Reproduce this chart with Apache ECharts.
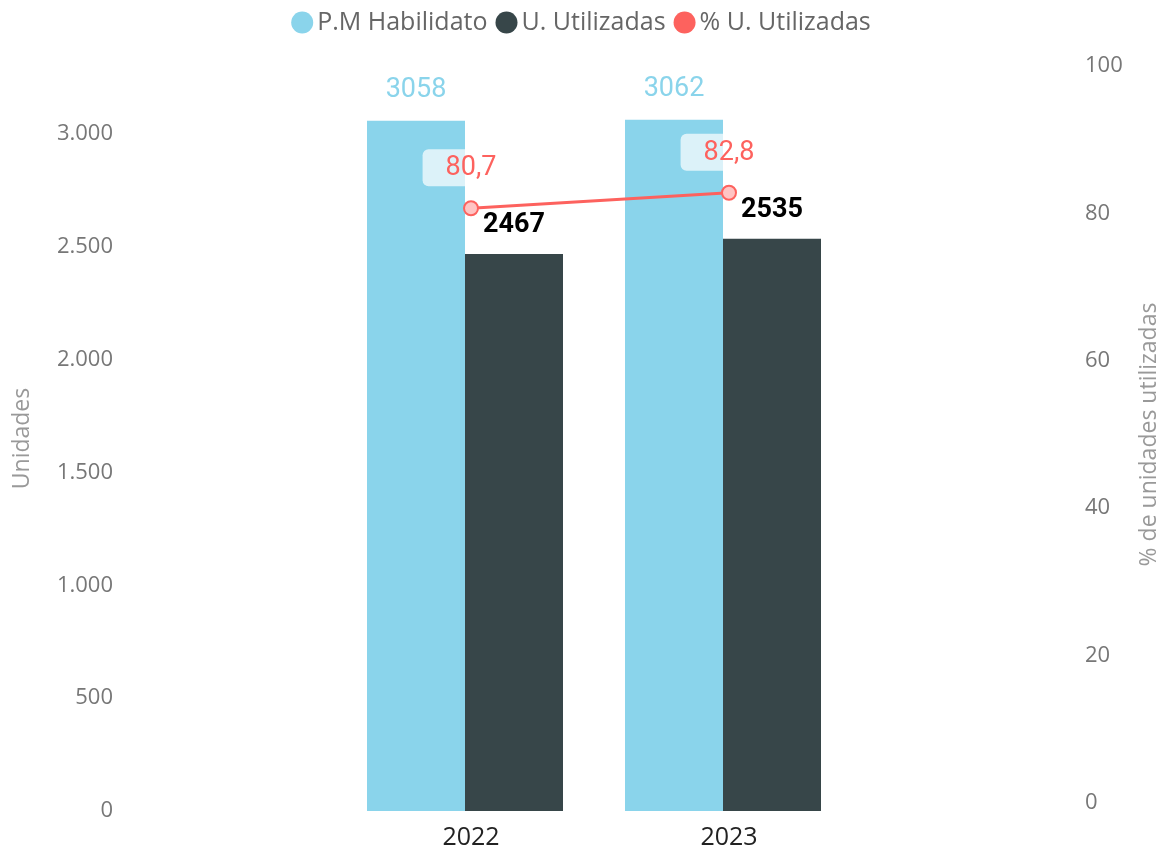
<!DOCTYPE html>
<html>
<head>
<meta charset="utf-8">
<script src="https://cdn.jsdelivr.net/npm/echarts@6/dist/echarts.min.js"></script>
<style>
  html, body { margin: 0; padding: 0; background: #fff; }
  #chart { width: 1162px; height: 852px; }
</style>
</head>
<body>
<div id="chart"></div>
<script>
// categorias y valores
var years = ['2022', '2023'];
var habilitado = [3058, 3062];     // P.M Habilitado
var utilizadas = [2467, 2535];     // U. Utilizadas
var pctUtilizadas = [80.7, 82.8];  // % U. Utilizadas

var chart = echarts.init(document.getElementById('chart'));

// separador de miles con punto
function miles(v) {
    return String(v).replace(/\B(?=(\d{3})+(?!\d))/g, '.');
}

var option = {
    animation: false,
    legend: {
        top: 5,
        left: 'center',
        icon: 'circle',
        itemWidth: 22,
        itemHeight: 22,
        itemGap: 8,
        textStyle: { fontFamily: 'Open Sans', fontSize: 25, color: '#666', padding: [0, 0, 0, -1] },
        data: [
            'P.M Habilidato',
            'U. Utilizadas',
            { name: '% U. Utilizadas', itemStyle: { color: '#FD625E', borderWidth: 0 } }
        ]
    },
    grid: [
        { left: 336, right: 310, top: 66, bottom: 41 },   // barras
        { left: 342, right: 304, top: 66, bottom: 49 }    // linea %
    ],
    xAxis: [
        {
            type: 'category', gridIndex: 0, data: years,
            axisLine: { show: false }, axisTick: { show: false },
            axisLabel: { show: false }
        },
        {
            type: 'category', gridIndex: 1, data: years,
            axisLine: { show: false }, axisTick: { show: false },
            axisLabel: { margin: 22, fontFamily: 'Open Sans', fontSize: 25, color: '#222' }
        }
    ],
    yAxis: [
        {
            type: 'value', gridIndex: 0, min: 0, max: 3300, interval: 500,
            name: 'Unidades', nameLocation: 'middle', nameGap: 302, nameRotate: 90,
            nameTextStyle: { fontFamily: 'Open Sans', fontSize: 23, color: '#999' },
            splitLine: { show: false },
            axisLine: { show: false }, axisTick: { show: false },
            axisLabel: {
                margin: 223, showMaxLabel: false,
                fontFamily: 'Open Sans', fontSize: 22, color: '#777',
                formatter: miles
            }
        },
        {
            type: 'value', gridIndex: 1, position: 'right', min: 0, max: 100, interval: 20,
            name: '% de unidades utilizadas', nameLocation: 'middle', nameGap: 280, nameRotate: 90,
            nameTextStyle: { fontFamily: 'Open Sans', fontSize: 23, color: '#999' },
            splitLine: { show: false },
            axisLine: { show: false }, axisTick: { show: false },
            axisLabel: {
                margin: 227, align: 'left',
                fontFamily: 'Open Sans', fontSize: 22, color: '#777'
            }
        }
    ],
    series: [
        {
            name: 'P.M Habilidato', type: 'bar', xAxisIndex: 0, yAxisIndex: 0,
            data: habilitado, barWidth: 98, barGap: '0%',
            itemStyle: { color: '#8AD4EB' },
            label: {
                show: true, position: 'top', distance: 17,
                fontFamily: 'Roboto', fontSize: 27, color: '#8AD4EB'
            }
        },
        {
            name: 'U. Utilizadas', type: 'bar', xAxisIndex: 0, yAxisIndex: 0,
            data: utilizadas, barWidth: 98, barGap: '0%',
            itemStyle: { color: '#374649' },
            label: {
                show: true, position: 'top', distance: 15,
                fontFamily: 'Roboto', fontSize: 27, fontWeight: 'bold', color: '#000'
            }
        },
        {
            name: '% U. Utilizadas', type: 'line', xAxisIndex: 1, yAxisIndex: 1,
            data: pctUtilizadas, symbol: 'circle', symbolSize: 14,
            lineStyle: { color: '#FD625E', width: 3 },
            itemStyle: { color: '#FFC4C3', borderColor: '#FD625E', borderWidth: 2 },
            label: {
                show: true, position: 'top', distance: 14,
                fontFamily: 'Roboto', fontSize: 27, color: '#FD625E',
                backgroundColor: 'rgba(255,255,255,0.7)',
                borderRadius: 6, padding: [6, 23, 4, 23],
                formatter: function (p) { return p.value.toFixed(1).replace('.', ','); }
            }
        }
    ]
};

chart.setOption(option);
</script>
</body>
</html>
